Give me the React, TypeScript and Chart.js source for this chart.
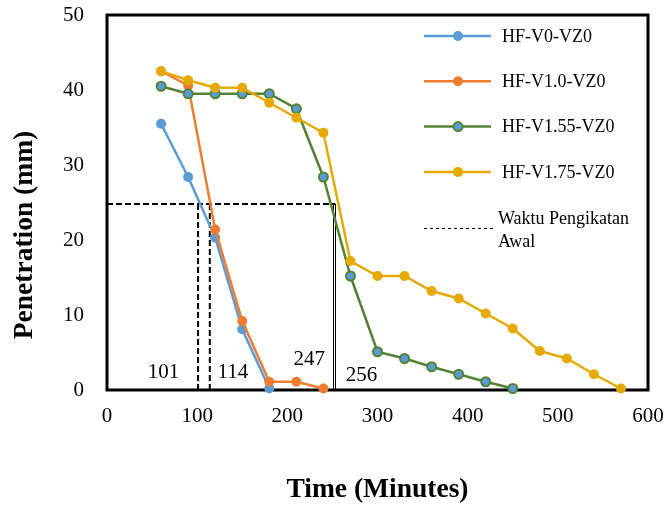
import React, { useEffect, useRef } from "react";
import { Chart, registerables } from "chart.js";

Chart.register(...registerables);

// ---- data ----
const seriesNames = ["HF-V0-VZ0", "HF-V1.0-VZ0", "HF-V1.55-VZ0", "HF-V1.75-VZ0"];
const timeV0 = [60, 90, 120, 150, 180];
const penV0 = [35.5, 28.4, 20.3, 8.1, 0.2];
const timeV10 = [60, 90, 120, 150, 180, 210, 240];
const penV10 = [42.5, 40.6, 21.4, 9.2, 1.1, 1.1, 0.2];
const timeV155 = [60, 90, 120, 150, 180, 210, 240, 270, 300, 330, 360, 390, 420, 450];
const penV155 = [40.5, 39.5, 39.5, 39.5, 39.5, 37.5, 28.4, 15.2, 5.1, 4.2, 3.1, 2.1, 1.1, 0.2];
const timeV175 = [60, 90, 120, 150, 180, 210, 240, 270, 300, 330, 360, 390, 420, 450, 480, 510, 540, 570];
const penV175 = [42.5, 41.3, 40.3, 40.3, 38.3, 36.3, 34.3, 17.2, 15.2, 15.2, 13.2, 12.2, 10.2, 8.2, 5.2, 4.2, 2.1, 0.2];
const xTickValues = [0, 100, 200, 300, 400, 500, 600];
const yTickValues = [0, 10, 20, 30, 40, 50];
const initialSetPenetration = 24.8;
const dashedTimes = [101, 114];
const solidTimes = [251, 253.3];
const setTimeLabels = ["101", "114", "247", "256"];
const refLegendLines = ["Waktu Pengikatan", "Awal"];
const xTitle = "Time (Minutes)";
const yTitle = "Penetration (mm)";

const SERIF = "'Liberation Serif', 'Times New Roman', serif";
const BLUE = "#5B9BD5";
const ORANGE = "#ED7D31";
const GREEN = "#548235";
const GOLD = "#E5AA00";

const toXY = (xs: number[], ys: number[]) => xs.map((x, i) => ({ x, y: ys[i] }));

export default function App() {
  const ref = useRef<HTMLCanvasElement>(null);

  useEffect(() => {
    const canvas = ref.current!;
    const colors = [BLUE, ORANGE, GREEN, GOLD];
    const pointFills = [BLUE, ORANGE, BLUE, GOLD];

    const overlay = {
      id: "overlay",
      beforeDatasetsDraw(chart: any) {
        const { ctx, chartArea: a, scales } = chart;
        const x = scales.x;
        const y = scales.y;
        const yRef = y.getPixelForValue(initialSetPenetration);
        const y0 = y.getPixelForValue(0);
        ctx.save();
        ctx.strokeStyle = "#000";
        // dashed horizontal
        ctx.lineWidth = 2;
        ctx.setLineDash([6, 3]);
        ctx.beginPath();
        ctx.moveTo(x.getPixelForValue(0), yRef);
        ctx.lineTo(x.getPixelForValue(solidTimes[1]), yRef);
        ctx.stroke();
        // dashed verticals
        dashedTimes.forEach((t) => {
          const px = x.getPixelForValue(t);
          ctx.beginPath();
          ctx.moveTo(px, yRef);
          ctx.lineTo(px, y0);
          ctx.stroke();
        });
        ctx.setLineDash([]);
        ctx.lineWidth = 1;
        solidTimes.forEach((t) => {
          const px = Math.round(x.getPixelForValue(t)) + 0.5;
          ctx.beginPath();
          ctx.moveTo(px, yRef);
          ctx.lineTo(px, y0);
          ctx.stroke();
        });
        // plot border
        ctx.lineWidth = 3;
        ctx.strokeRect(a.left, a.top, a.width, a.height);
        // set time labels
        const anchors = [dashedTimes[0], dashedTimes[1], solidTimes[0], solidTimes[1]];
        const dx = [-34.5, 23, -24, 26];
        const dy = [-17.5, -18, -30.5, -15];
        ctx.fillStyle = "#000";
        ctx.font = `21px ${SERIF}`;
        ctx.textAlign = "center";
        ctx.textBaseline = "middle";
        setTimeLabels.forEach((lab, i) => {
          ctx.fillText(lab, x.getPixelForValue(anchors[i]) + dx[i], y0 + dy[i]);
        });
        ctx.restore();
      },
      afterDraw(chart: any) {
        const { ctx, chartArea: a } = chart;
        ctx.save();
        // legend
        const lx0 = a.right - 224;
        const lx1 = a.right - 157;
        const mx = a.right - 190;
        const tx = a.right - 146;
        ctx.font = `18px ${SERIF}`;
        ctx.textAlign = "left";
        ctx.textBaseline = "middle";
        seriesNames.forEach((name, i) => {
          const ly = a.top + 21 + i * 45.3;
          ctx.strokeStyle = colors[i];
          ctx.lineWidth = 2.5;
          ctx.beginPath();
          ctx.moveTo(lx0, ly);
          ctx.lineTo(lx1, ly);
          ctx.stroke();
          ctx.beginPath();
          ctx.arc(mx, ly, i === 2 ? 4.5 : 5, 0, Math.PI * 2);
          ctx.fillStyle = pointFills[i];
          ctx.fill();
          if (i === 2) {
            ctx.lineWidth = 2;
            ctx.strokeStyle = GREEN;
            ctx.stroke();
          }
          ctx.fillStyle = "#000";
          ctx.fillText(name, tx, ly + 1);
        });
        // reference legend
        const ry = a.top + 213;
        ctx.strokeStyle = "#000";
        ctx.lineWidth = 1;
        ctx.setLineDash([3, 3]);
        ctx.beginPath();
        ctx.moveTo(lx0, ry + 0.5);
        ctx.lineTo(lx0 + 71, ry + 0.5);
        ctx.stroke();
        ctx.setLineDash([]);
        ctx.fillStyle = "#000";
        ctx.fillText(refLegendLines[0], a.right - 150, a.top + 204);
        ctx.fillText(refLegendLines[1], a.right - 150, a.top + 227);
        // axis titles
        ctx.font = `bold 27.5px ${SERIF}`;
        ctx.textAlign = "center";
        ctx.textBaseline = "middle";
        ctx.fillText(xTitle, (a.left + a.right) / 2, 490);
        ctx.translate(25, 235);
        ctx.rotate(-Math.PI / 2);
        ctx.fillText(yTitle, 0, 0);
        ctx.restore();
      },
    };

    const mk = (i: number, xs: number[], ys: number[], order: number) => ({
      label: seriesNames[i],
      data: toXY(xs, ys),
      borderColor: colors[i],
      backgroundColor: pointFills[i],
      borderWidth: 2.5,
      pointRadius: i === 2 ? 4.5 : 5,
      pointBackgroundColor: pointFills[i],
      pointBorderColor: i === 2 ? GREEN : colors[i],
      pointBorderWidth: i === 2 ? 2 : 0,
      pointHoverRadius: 5,
      tension: 0,
      clip: false as any,
      order,
    });

    const zeroPad = (s: any) => {
      s.paddingTop = 0;
      s.paddingBottom = 0;
      s.paddingLeft = 0;
      s.paddingRight = 0;
    };

    const chart = new Chart(canvas, {
      type: "line",
      data: {
        datasets: [
          mk(0, timeV0, penV0, 3),
          mk(1, timeV10, penV10, 2),
          mk(2, timeV155, penV155, 1),
          mk(3, timeV175, penV175, 0),
        ] as any,
      },
      options: {
        responsive: false,
        animation: false,
        layout: { padding: { top: 15, right: 19, left: 0, bottom: 0 } },
        plugins: { legend: { display: false }, tooltip: { enabled: false } },
        scales: {
          x: {
            type: "linear",
            min: xTickValues[0],
            max: xTickValues[xTickValues.length - 1],
            afterBuildTicks: (s: any) => {
              s.ticks = xTickValues.map((v) => ({ value: v }));
            },
            afterFit: (s: any) => {
              s.height = 118;
              zeroPad(s);
            },
            grid: { display: false, drawTicks: false },
            border: { display: false },
            ticks: {
              color: "#000",
              font: { family: SERIF, size: 21 },
              padding: 14,
              maxRotation: 0,
            },
          },
          y: {
            type: "linear",
            min: yTickValues[0],
            max: yTickValues[yTickValues.length - 1],
            afterBuildTicks: (s: any) => {
              s.ticks = yTickValues.map((v) => ({ value: v }));
            },
            afterFit: (s: any) => {
              s.width = 107;
              zeroPad(s);
            },
            grid: { display: false, drawTicks: false },
            border: { display: false },
            ticks: {
              color: "#000",
              font: { family: SERIF, size: 21 },
              padding: 23,
            },
          },
        },
      },
      plugins: [overlay],
    });
    return () => chart.destroy();
  }, []);

  return (
    <div style={{ position: "fixed", left: 0, top: 0, width: 667, height: 508, background: "#fff" }}>
      <canvas ref={ref} width={667} height={508} style={{ width: 667, height: 508 }} />
    </div>
  );
}
